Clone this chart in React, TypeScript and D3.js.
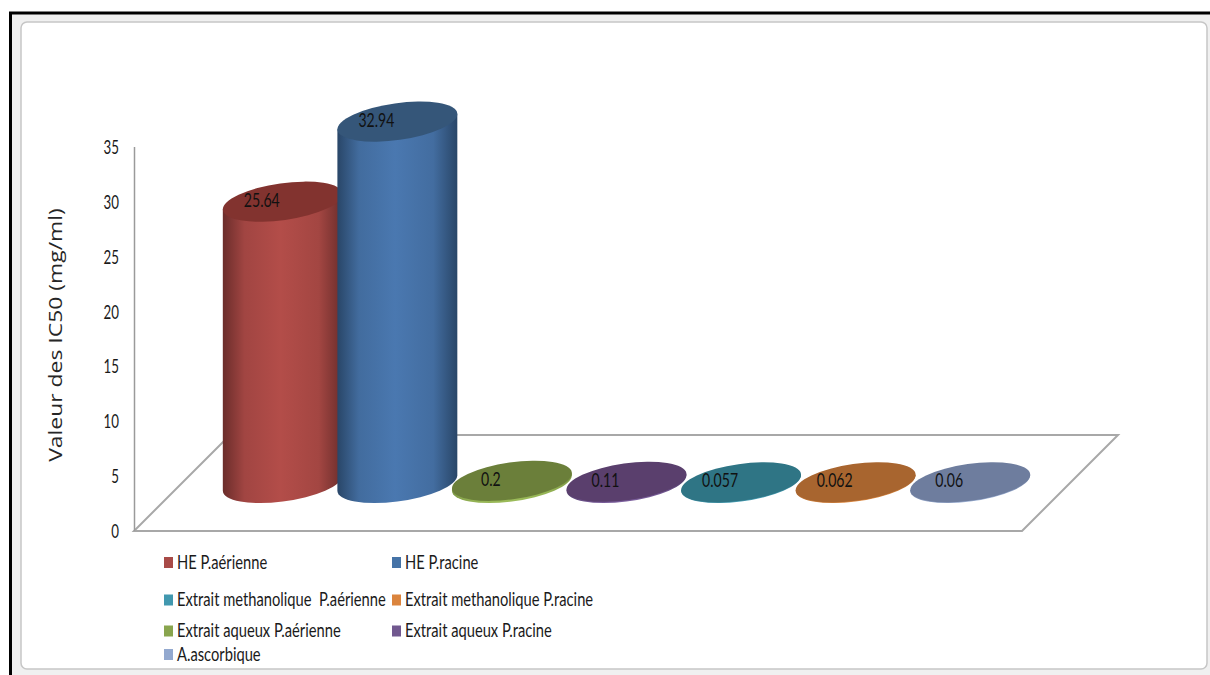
import React from "react";
import * as d3 from "d3";

// Bars, left to right along the category axis
const barNames = [
  "HE P.aérienne",
  "HE P.racine",
  "Extrait aqueux P.aérienne",
  "Extrait aqueux P.racine",
  "Extrait methanolique  P.aérienne",
  "Extrait methanolique P.racine",
  "A.ascorbique",
];
const barValues = [25.64, 32.94, 0.2, 0.11, 0.057, 0.062, 0.06];
const barLabels = ["25.64", "32.94", "0.2", "0.11", "0.057", "0.062", "0.06"];
const bodyEdge = ["#6b2d2b", "#294668", "#7f9a46", "#553f6e", "#2f7a8c", "#b06a30", "#7c8cad"];
const bodyLight = ["#b34d49", "#4a78b0", "#9bbb59", "#7c5f9e", "#4aa0b6", "#e08c45", "#9fb3d6"];
const topColors = ["#82332f", "#355679", "#6b7f3a", "#5a3f6d", "#2f7585", "#a8652f", "#6e7d9e"];

// Legend rows in the order they are laid out
const legendNames = [
  "HE P.aérienne",
  "HE P.racine",
  "Extrait methanolique  P.aérienne",
  "Extrait methanolique P.racine",
  "Extrait aqueux P.aérienne",
  "Extrait aqueux P.racine",
  "A.ascorbique",
];
const legendColors = ["#a84a47", "#4573a7", "#4198af", "#db843d", "#89a54e", "#71588f", "#93a9cf"];
const legendColumn = [0, 1, 0, 1, 0, 1, 0];
const legendRows = [562.5, 562.5, 600, 600, 631, 631, 654.5];

const yTicks = [0, 5, 10, 15, 20, 25, 30, 35];

const W = 1210;
const H = 675;
const y = d3.scaleLinear().domain([0, 35]).range([531, 147]);
const x = d3.scaleBand<string>().domain(barNames).range([225.5, 1027.5]).padding(0);

const FLOOR_DEPTH = 96;
const BASE_LIFT = 48; // distance from the front floor edge to the bars' base centres
const RX = 60.5;
const RY = 18.4;
const TILT = -8;

const th = (TILT * Math.PI) / 180;
const tangent = Math.atan2(-RY * Math.sin(th), RX * Math.cos(th));
const HW = RX * Math.cos(tangent) * Math.cos(th) - RY * Math.sin(tangent) * Math.sin(th);
const HD = RX * Math.cos(tangent) * Math.sin(th) + RY * Math.sin(tangent) * Math.cos(th);

// Tall, narrow humanist text, close to the condensed look of the chart labels
const FONT = "Lato, 'Open Sans', sans-serif";
const FONT_SIZE = 18.5;

function Label(props: { x: number; y: number; squeeze?: number; anchor?: string; fill?: string; children: string }) {
  const { squeeze = 0.795, anchor = "start", fill = "#1a1a1a" } = props;
  return (
    <text
      transform={`translate(${props.x},${props.y}) scale(${squeeze},1)`}
      fontFamily={FONT}
      fontSize={FONT_SIZE}
      textAnchor={anchor}
      fill={fill}
      xmlSpace="preserve"
    >
      {props.children}
    </text>
  );
}

function cylinderPath(cx: number, base: number, top: number) {
  const p = d3.path();
  p.moveTo(cx - HW, base - HD);
  p.lineTo(cx - HW, top - HD);
  p.lineTo(cx + HW, top + HD);
  p.lineTo(cx + HW, base + HD);
  return `${p.toString()} A${RX},${RY} ${TILT} 0 1 ${cx - HW},${base - HD} Z`;
}

export default function App() {
  const y0 = y(0);
  const backY = y0 - FLOOR_DEPTH;
  const floor = [
    [134, y0],
    [1022, y0],
    [1022 + FLOOR_DEPTH, backY],
    [134 + FLOOR_DEPTH, backY],
  ];
  const floorLine = d3.line()(floor as [number, number][]) + "Z";

  return (
    <svg
      width={W}
      height={H}
      viewBox={`0 0 ${W} ${H}`}
      style={{ position: "absolute", left: 0, top: 0, display: "block", background: "#fff" }}
    >
      <defs>
        {barNames.map((_, i) => (
          <linearGradient key={i} id={`body${i}`} x1="0" x2="1" y1="0" y2="0">
            <stop offset="0" stopColor={bodyEdge[i]} />
            <stop offset="0.18" stopColor={d3.interpolateRgb(bodyEdge[i], bodyLight[i])(0.75)} />
            <stop offset="0.48" stopColor={bodyLight[i]} />
            <stop offset="0.8" stopColor={d3.interpolateRgb(bodyEdge[i], bodyLight[i])(0.78)} />
            <stop offset="1" stopColor={bodyEdge[i]} />
          </linearGradient>
        ))}
      </defs>

      {/* Worksheet strip and window edge around the chart object */}
      <rect x={10} y={13} width={W - 10} height={H - 13} fill="#f0f0f0" />
      <path d={`M10.5,${H} V13 H${W}`} fill="none" stroke="#000" strokeWidth={3} />
      <rect x={21} y={22} width={1186} height={647} rx={6} fill="#fff" stroke="#c6c6c6" strokeWidth={1.5} />

      {/* Floor of the 3-D plot and vertical axis */}
      <path d={floorLine} fill="#fff" stroke="#a8a8a8" strokeWidth={2} />
      <line x1={134.5} x2={134.5} y1={y(35)} y2={y0} stroke="#9a9a9a" strokeWidth={1.5} />

      {yTicks.map((t) => (
        <Label key={t} x={119} y={y(t) + 7} anchor="end" squeeze={0.72}>
          {String(t)}
        </Label>
      ))}

      <text
        transform="translate(62,335) rotate(-90) scale(1.31,1)"
        fontFamily="'Open Sans', sans-serif"
        fontSize={17.5}
        textAnchor="middle"
        fill="#262626"
      >
        Valeur des IC50 (mg/ml)
      </text>

      {/* Cylinders, drawn left to right so that each overlaps the one before */}
      {barNames.map((name, i) => {
        const cx = (x(name) as number) + x.bandwidth() / 2;
        const base = y0 - BASE_LIFT;
        const top = base - (y0 - y(barValues[i]));
        return (
          <g key={name}>
            <path d={cylinderPath(cx, base, top)} fill={`url(#body${i})`} />
            <ellipse
              cx={cx}
              cy={top}
              rx={RX}
              ry={RY}
              fill={topColors[i]}
              transform={`rotate(${TILT} ${cx} ${top})`}
            />
          </g>
        );
      })}

      {/* Value labels stay above every cylinder */}
      {barNames.map((name, i) => {
        const cx = (x(name) as number) + x.bandwidth() / 2;
        const top = y0 - BASE_LIFT - (y0 - y(barValues[i]));
        return (
          <Label key={name} x={cx - 21} y={top + 5} anchor="middle" fill="#111" squeeze={0.76}>
            {barLabels[i]}
          </Label>
        );
      })}

      {/* Legend */}
      {legendNames.map((name, i) => {
        const lx = legendColumn[i] === 0 ? 164 : 392;
        const ly = legendRows[i];
        return (
          <g key={name}>
            <rect x={lx} y={ly - 5.5} width={9} height={11} fill={legendColors[i]} />
            <Label x={lx + 13} y={ly + 6}>
              {name}
            </Label>
          </g>
        );
      })}
    </svg>
  );
}
